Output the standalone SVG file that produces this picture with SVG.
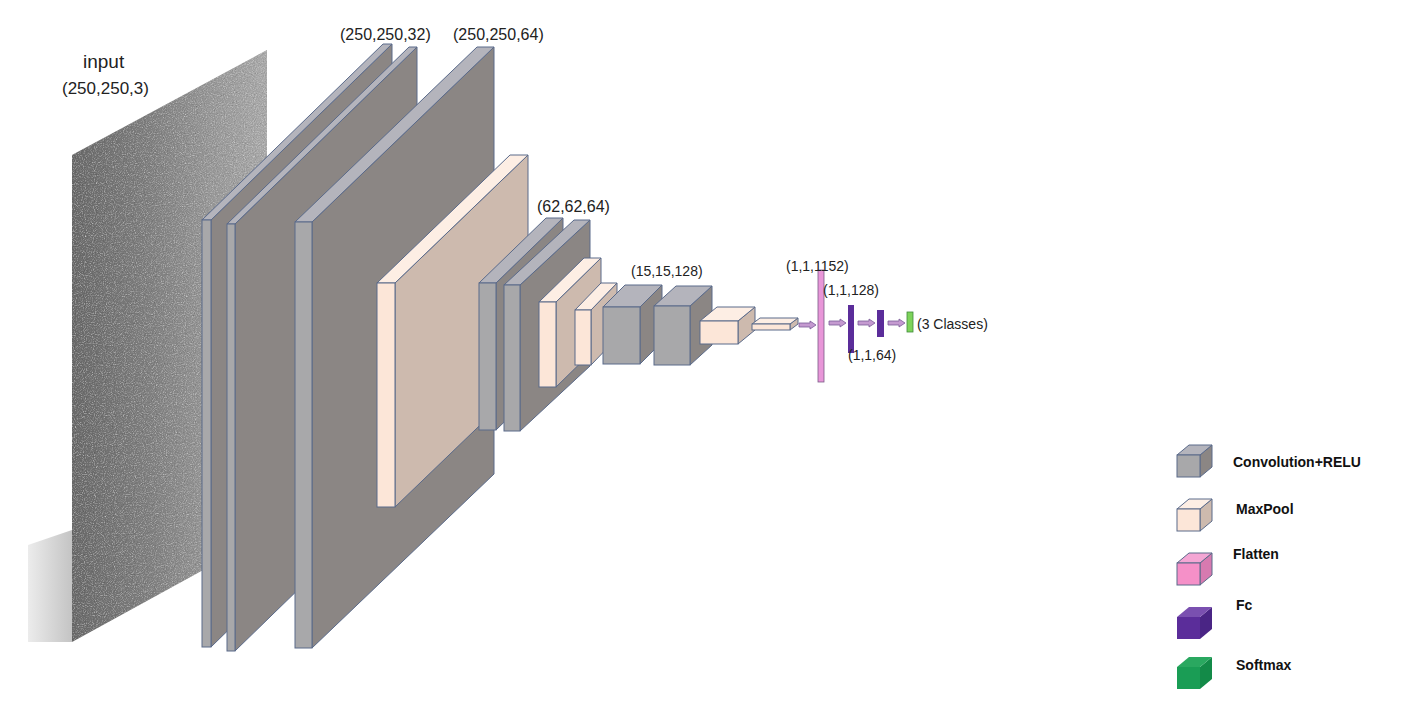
<svg xmlns="http://www.w3.org/2000/svg" width="1403" height="709" viewBox="0 0 1403 709">
<style>
.t{font-family:"Liberation Sans",Arial,sans-serif;fill:#222;font-size:15px}
.s{font-size:14px}
.l{font-family:"Liberation Sans",Arial,sans-serif;fill:#111;font-size:14px;font-weight:bold}
.e{stroke:#5a6a8a;stroke-width:1}
.cf{fill:#a8a8aa}.ct{fill:#b4b4bc}.cs{fill:#8b8684}
.mf{fill:#fce6d8}.mt{fill:#fdeee4}.ms{fill:#cdbaae}
.ar{fill:#c49ad0;stroke:#7a5a98;stroke-width:0.8}
</style>
<defs>
<linearGradient id="img" x1="0" y1="0" x2="1" y2="0">
<stop offset="0" stop-color="#6a6a6a"/><stop offset="0.4" stop-color="#808080"/><stop offset="0.7" stop-color="#979797"/><stop offset="1" stop-color="#aaaaaa"/>
</linearGradient>
<linearGradient id="sh" x1="0" y1="0" x2="1" y2="0">
<stop offset="0" stop-color="#ececec"/><stop offset="1" stop-color="#c4c4c4"/>
</linearGradient>
<filter id="n"><feTurbulence type="fractalNoise" baseFrequency="0.9" numOctaves="2" result="t"/><feColorMatrix type="saturate" values="0" in="t" result="g"/><feComposite in="g" in2="SourceGraphic" operator="in" result="c"/><feBlend in="SourceGraphic" in2="c" mode="overlay"/></filter>
</defs>
<g id="input">
<polygon points="28,545 72,530 72,642 28,642" fill="url(#sh)"/>
<polygon points="72,155 267,50 267,535 72,642" fill="url(#img)" filter="url(#n)"/>
<text class="t" x="83" y="68" style="font-size:19px">input</text>
<text class="t" x="62" y="94" style="font-size:17px">(250,250,3)</text>
</g>
<g id="conv1">
<polygon class="cs e" points="211,220 392,44 392,470 211,647"/>
<polygon class="ct e" points="202,220 383,44 392,44 211,220"/>
<rect class="cf e" x="202" y="220" width="9" height="427"/>
</g>
<g id="conv2">
<polygon class="cs e" points="235,224 417,47 417,474 235,651"/>
<polygon class="ct e" points="227,224 409,47 417,47 235,224"/>
<rect class="cf e" x="227" y="224" width="8" height="427"/>
<text class="t" x="340" y="40" style="font-size:16px">(250,250,32)</text>
</g>
<g id="conv3">
<polygon class="cs e" points="312,222 494,47 494,474 312,648"/>
<polygon class="ct e" points="295,222 477,47 494,47 312,222"/>
<rect class="cf e" x="295" y="222" width="17" height="426"/>
<text class="t" x="453" y="40" style="font-size:16px">(250,250,64)</text>
</g>
<g id="pool1">
<polygon class="ms e" points="395,283 528,155 528,379 395,507"/>
<polygon class="mt e" points="377,283 510,155 528,155 395,283"/>
<rect class="mf e" x="377" y="283" width="18" height="224"/>
</g>
<g id="conv4">
<polygon class="cs e" points="496,283 563,218 563,365 496,430"/>
<polygon class="ct e" points="479,283 546,218 563,218 496,283"/>
<rect class="cf e" x="479" y="283" width="17" height="147"/>
<text class="t" x="537" y="212" style="font-size:16px">(62,62,64)</text>
</g>
<g id="conv5">
<polygon class="cs e" points="520,285 590,220 590,366 520,431"/>
<polygon class="ct e" points="504,285 574,220 590,220 520,285"/>
<rect class="cf e" x="504" y="285" width="16" height="146"/>
</g>
<g id="pool2">
<polygon class="ms e" points="556,302 601,258 601,343 556,387"/>
<polygon class="mt e" points="539,302 584,258 601,258 556,302"/>
<rect class="mf e" x="539" y="302" width="17" height="85"/>
</g>
<g id="pool3">
<polygon class="ms e" points="591,310 617,283 617,338 591,365"/>
<polygon class="mt e" points="575,310 601,283 617,283 591,310"/>
<rect class="mf e" x="575" y="310" width="16" height="55"/>
</g>
<g id="conv6">
<polygon class="cs e" points="640,307 662,285 662,342 640,364"/>
<polygon class="ct e" points="603,307 625,285 662,285 640,307"/>
<rect class="cf e" x="603" y="307" width="37" height="57"/>
<text class="t s" x="631" y="276">(15,15,128)</text>
</g>
<g id="conv7">
<polygon class="cs e" points="690,306 712,286 712,345 690,365"/>
<polygon class="ct e" points="654,306 676,286 712,286 690,306"/>
<rect class="cf e" x="654" y="306" width="36" height="59"/>
</g>
<g id="pool4">
<polygon class="ms e" points="738,321 755,307 755,330 738,344"/>
<polygon class="mt e" points="700,321 717,307 755,307 738,321"/>
<rect class="mf e" x="700" y="321" width="38" height="23"/>
</g>
<g id="pool5">
<polygon class="ms e" points="790,324 798,318 798,324 790,330"/>
<polygon class="mt e" points="752,324 760,318 798,318 790,324"/>
<rect class="mf e" x="752" y="324" width="38" height="6"/>
</g>
<g id="flatten">
<rect x="818" y="270" width="6" height="112" fill="#e896d8" stroke="#7a5a88" stroke-width="0.8"/>
<text class="t s" x="786" y="271">(1,1,1152)</text>
</g>
<g id="fc1">
<rect x="848" y="305" width="6" height="48" fill="#5b2d9a"/>
<text class="t s" x="823" y="295">(1,1,128)</text>
</g>
<g id="fc2">
<rect x="877" y="310" width="7" height="27" fill="#5b2d9a"/>
<text class="t s" x="848" y="360">(1,1,64)</text>
</g>
<g id="softmax">
<rect x="907" y="312" width="6" height="20" fill="#7dd35a" stroke="#3f8a3a" stroke-width="0.8"/>
<text class="t s" x="917" y="329">(3 Classes)</text>
</g>
<g id="connectors">
<polygon class="ar" points="799,323 810,323 810,321 816,325 810,329 810,327 799,327"/>
<polygon class="ar" points="829,321 840,321 840,319 846,323 840,327 840,325 829,325"/>
<polygon class="ar" points="858,321 869,321 869,319 875,323 869,327 869,325 858,325"/>
<polygon class="ar" points="888,321 899,321 899,319 905,323 899,327 899,325 888,325"/>
</g>
<g id="legend">
<g><polygon points="1200,455 1212,445 1212,467 1200,477" fill="#8b8684" class="e"/><polygon points="1177,455 1189,445 1212,445 1200,455" fill="#b4b4bc" class="e"/><rect x="1177" y="455" width="23" height="22" fill="#a8a8aa" class="e"/><text class="l" x="1233" y="467">Convolution+RELU</text></g>
<g><polygon points="1200,509 1212,499 1212,521 1200,531" fill="#cdbaae" class="e"/><polygon points="1177,509 1189,499 1212,499 1200,509" fill="#fdeee4" class="e"/><rect x="1177" y="509" width="23" height="22" fill="#fce6d8" class="e"/><text class="l" x="1236" y="514">MaxPool</text></g>
<g><polygon points="1200,563 1212,553 1212,575 1200,585" fill="#d77ab0" class="e"/><polygon points="1177,563 1189,553 1212,553 1200,563" fill="#f4a6d4" class="e"/><rect x="1177" y="563" width="23" height="22" fill="#f590c8" class="e"/><text class="l" x="1233" y="559">Flatten</text></g>
<g><polygon points="1200,617 1212,607 1212,629 1200,639" fill="#4a2585"/><polygon points="1177,617 1189,607 1212,607 1200,617" fill="#7a50b0"/><rect x="1177" y="617" width="23" height="22" fill="#5b2d9a"/><text class="l" x="1236" y="610">Fc</text></g>
<g><polygon points="1200,667 1212,657 1212,679 1200,689" fill="#138a48"/><polygon points="1177,667 1189,657 1212,657 1200,667" fill="#2aa860"/><rect x="1177" y="667" width="23" height="22" fill="#1a9d55"/><text class="l" x="1236" y="670">Softmax</text></g>
</g>
</svg>
